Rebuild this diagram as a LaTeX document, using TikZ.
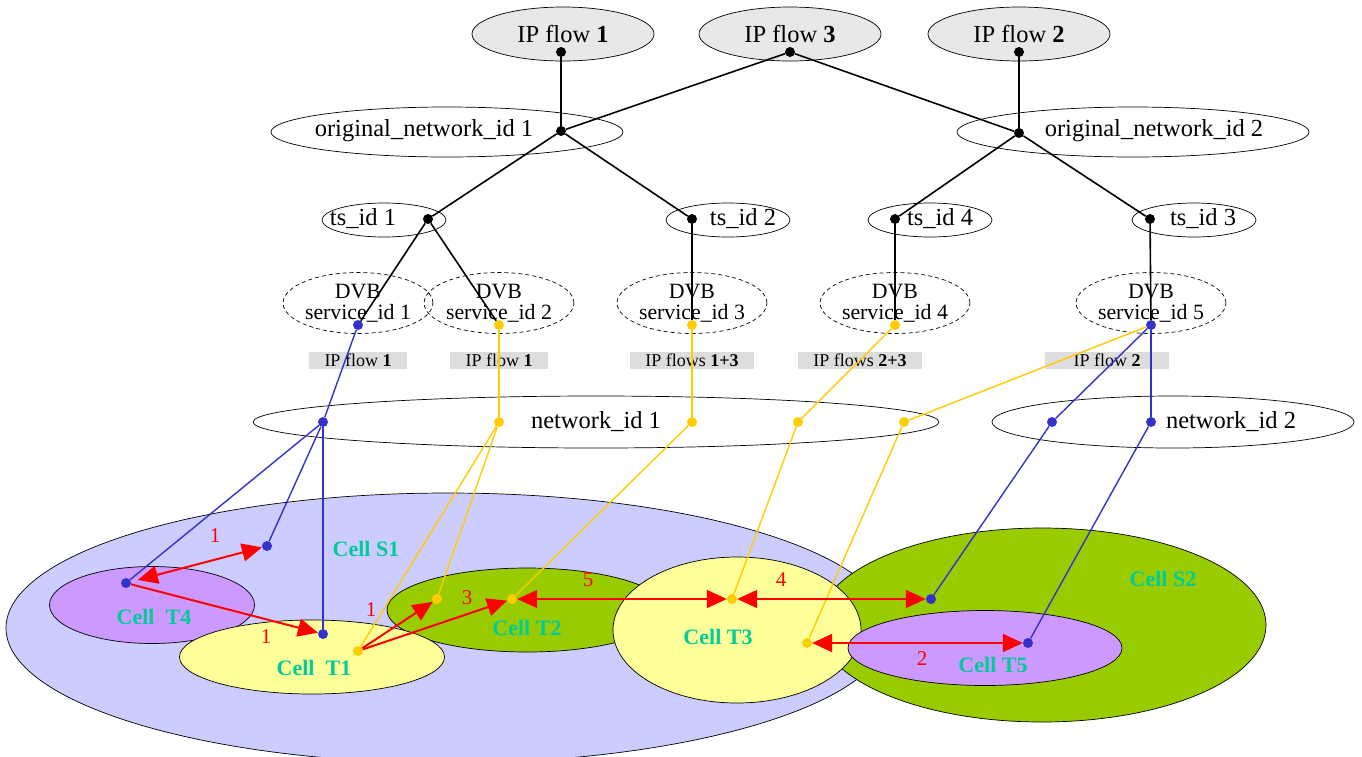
\documentclass[tikz,border=0pt]{standalone}
\usepackage{fontspec}
\setmainfont{Liberation Serif}
\usetikzlibrary{arrows.meta,shapes.geometric}
\definecolor{flowgray}{HTML}{E8E8E8}
\definecolor{boxgray}{HTML}{DDDDDD}
\definecolor{lblue}{HTML}{3333CC}
\definecolor{lyellow}{HTML}{FFCC00}
\definecolor{cellblue}{HTML}{CCCCFF}
\definecolor{cellgreen}{HTML}{99CC00}
\definecolor{cellyellow}{HTML}{FFFF99}
\definecolor{cellpurple}{HTML}{CC99FF}
\definecolor{celltxt}{HTML}{00CC99}
\begin{document}
\begin{tikzpicture}[x=1pt,y=-1pt]
	\tikzset{
		ell/.style = {ellipse, draw, line width=0.7pt, inner sep=0pt},
		big/.style = {font=\fontsize{24.5}{27}\selectfont},
		flow/.style = {ell, big, fill=flowgray, minimum width=182pt, minimum height=54pt},
		onid/.style = {ell, minimum width=352pt, minimum height=50pt},
		tsid/.style = {ell, minimum width=124pt, minimum height=34pt},
		dvb/.style = {ell, dash pattern=on 4pt off 3pt, minimum width=142pt, minimum height=61pt, align=center, font=\fontsize{21.8}{21}\selectfont},
		ipbox/.style = {fill=boxgray, inner sep=0pt, minimum height=17pt, font=\fontsize{18}{20}\selectfont},
		celltext/.style = {text=celltxt, font=\fontsize{22}{24}\selectfont\bfseries},
		num/.style = {text=red, font=\fontsize{21}{23}\selectfont},
		spot/.style = {circle, inner sep=0pt, minimum size=10pt},
		kdot/.style = {spot, fill=black},
		bdot/.style = {spot, fill=lblue},
		ydot/.style = {spot, fill=lyellow},
		kline/.style = {line width=1.6pt},
		bline/.style = {draw=lblue, line width=1.4pt},
		yline/.style = {draw=lyellow, line width=1.4pt},
		rline/.style = {draw=red, line width=2pt, ->},
		>={Triangle[length=20pt,width=18pt]}
	}
	\useasboundingbox (0,0) rectangle (1362,756);
	\clip (0,0) rectangle (1362,756);

	\node[flow] (F1) at (563,34) {IP flow \textbf{1}};
	\node[flow] (F3) at (790,34) {IP flow \textbf{3}};
	\node[flow] (F2) at (1019,34) {IP flow \textbf{2}};

	\node[onid] (O1) at (447,132) {};
	\node[big] (O1t) at (424,131) {original\_network\_id 1};
	\node[onid] (O2) at (1133,132) {};
	\node[big] (O2t) at (1154,131) {original\_network\_id 2};

	\node[tsid] (TS1) at (384,220) {};
	\node[big] (TS1t) at (363,219) {ts\_id 1};
	\node[tsid] (TS2) at (728,220) {};
	\node[big] (TS2t) at (743,219) {ts\_id 2};
	\node[tsid] (TS4) at (930,220) {};
	\node[big] (TS4t) at (940,219) {ts\_id 4};
	\node[tsid] (TS3) at (1194,220) {};
	\node[big] (TS3t) at (1203,219) {ts\_id 3};

	\node[dvb] (DVB1) at (358,303) {DVB\\service\_id 1};
	\node[dvb] (DVB2) at (499,303) {DVB\\service\_id 2};
	\node[dvb] (DVB3) at (692,303) {DVB\\service\_id 3};
	\node[dvb] (DVB4) at (895,303) {DVB\\service\_id 4};
	\node[dvb] (DVB5) at (1151,303) {DVB\\service\_id 5};

	\node[ipbox, minimum width=98pt] (G1) at (358,360) {IP flow \textbf{1}};
	\node[ipbox, minimum width=98pt] (G2) at (499,360) {IP flow \textbf{1}};
	\node[ipbox, minimum width=124pt] (G3) at (692,360) {IP flows \textbf{1+3}};
	\node[ipbox, minimum width=124pt] (G4) at (860,360) {IP flows \textbf{2+3}};
	\node[ipbox, minimum width=124pt] (G5) at (1107,360) {IP flow \textbf{2}};

	\node[ell, big, minimum width=686pt, minimum height=52pt] (N1) at (596,422) {network\_id 1};
	\node[ell, minimum width=362pt, minimum height=52pt] (N2) at (1173,422) {};
	\node[big] (N2t) at (1231,422) {network\_id 2};

	\node[ell, fill=cellblue, minimum width=884pt, minimum height=270pt] (S1) at (448,628) {};
	\node[ell, fill=cellgreen, minimum width=448pt, minimum height=194pt] (S2) at (1042,625) {};
	\node[ell, fill=cellpurple, minimum width=205pt, minimum height=77pt] (T4) at (152,605) {};
	\node[ell, fill=cellgreen, minimum width=280pt, minimum height=84pt] (T2) at (527,610) {};
	\node[ell, fill=cellyellow, minimum width=265pt, minimum height=74pt] (T1) at (312,657) {};
	\node[ell, fill=cellyellow, minimum width=248pt, minimum height=146pt] (T3) at (737,630) {};
	\node[ell, fill=cellpurple, minimum width=274pt, minimum height=75pt] (T5) at (985,648) {};

	\node[celltext] (S1t) at (366,549) {Cell S1};
	\node[celltext] (S2t) at (1163,579) {Cell S2};
	\node[celltext] (T1t) at (314,668) {Cell~ T1};
	\node[celltext] (T2t) at (527,628) {Cell T2};
	\node[celltext] (T3t) at (718,637) {Cell T3};
	\node[celltext] (T4t) at (154,617) {Cell~ T4};
	\node[celltext] (T5t) at (993,665) {Cell T5};

	\node[kdot] (f1) at (561,52) {};
	\node[kdot] (f3) at (790,52) {};
	\node[kdot] (f2) at (1019,52) {};
	\node[kdot] (o1) at (561,131) {};
	\node[kdot] (o2) at (1019,133) {};
	\node[kdot] (t1) at (428,219) {};
	\node[kdot] (t2) at (692,219) {};
	\node[kdot] (t4) at (895,219) {};
	\node[kdot] (t3) at (1150,219) {};
	\node[bdot] (d1) at (358,325) {};
	\node[ydot] (d2) at (499,325) {};
	\node[ydot] (d3) at (692,325) {};
	\node[ydot] (d4) at (895,325) {};
	\node[bdot] (d5) at (1151,325) {};
	\node[bdot] (n1a) at (323,422) {};
	\node[ydot] (n1b) at (499,422) {};
	\node[ydot] (n1c) at (692,422) {};
	\node[ydot] (n1d) at (798,422) {};
	\node[ydot] (n1e) at (904,422) {};
	\node[bdot] (n2a) at (1052,422) {};
	\node[bdot] (n2b) at (1151,422) {};
	\node[bdot] (c1) at (323,634) {};
	\node[bdot] (c2) at (267,546) {};
	\node[bdot] (c4) at (126,583) {};
	\node[ydot] (c5) at (358,651) {};
	\node[ydot] (c6) at (437,599) {};
	\node[ydot] (c7) at (512,599) {};
	\node[ydot] (c8) at (732,599) {};
	\node[bdot] (c9) at (931,599) {};
	\node[ydot] (c10) at (807,643) {};
	\node[bdot] (c11) at (1028,643) {};

	\draw[kline] (f1) -- (o1);
	\draw[kline] (f3) -- (o1);
	\draw[kline] (f3) -- (o2);
	\draw[kline] (f2) -- (o2);
	\draw[kline] (o1) -- (t1);
	\draw[kline] (o1) -- (t2);
	\draw[kline] (o2) -- (t4);
	\draw[kline] (o2) -- (t3);
	\draw[kline] (t1) -- (d1);
	\draw[kline] (t1) -- (d2);
	\draw[kline] (t2) -- (d3);
	\draw[kline] (t4) -- (d4);
	\draw[kline] (t3) -- (d5);

	\draw[bline] (d1) -- (n1a);
	\draw[yline] (d2) -- (n1b);
	\draw[yline] (d3) -- (n1c);
	\draw[yline] (d4) -- (n1d);
	\draw[yline] (d5) -- (n1e);
	\draw[bline] (d5) -- (n2a);
	\draw[bline] (d5) -- (n2b);

	\draw[bline] (n1a) -- (c4);
	\draw[bline] (n1a) -- (c2);
	\draw[bline] (n1a) -- (c1);
	\draw[yline] (n1b) -- (c5);
	\draw[yline] (n1b) -- (c6);
	\draw[yline] (n1c) -- (c7);
	\draw[yline] (n1d) -- (c8);
	\draw[yline] (n1e) -- (c10);
	\draw[bline] (n2a) -- (c9);
	\draw[bline] (n2b) -- (c11);

	\draw[rline, <->, shorten <=7pt] (c4) -- (c2);
	\draw[rline] (c4) -- (c1);
	\draw[rline] (c5) -- (c6);
	\draw[rline] (c5) -- (c7);
	\draw[rline, <->] (c7) -- (c8);
	\draw[rline, <->] (c8) -- (c9);
	\draw[rline, <->] (c10) -- (c11);

	\node[num] (r1) at (215,536) {1};
	\node[num] (r2) at (266,637) {1};
	\node[num] (r3) at (371,610) {1};
	\node[num] (r4) at (467,598) {3};
	\node[num] (r5) at (588,580) {5};
	\node[num] (r6) at (781,580) {4};
	\node[num] (r7) at (922,659) {2};
\end{tikzpicture}
\end{document}
